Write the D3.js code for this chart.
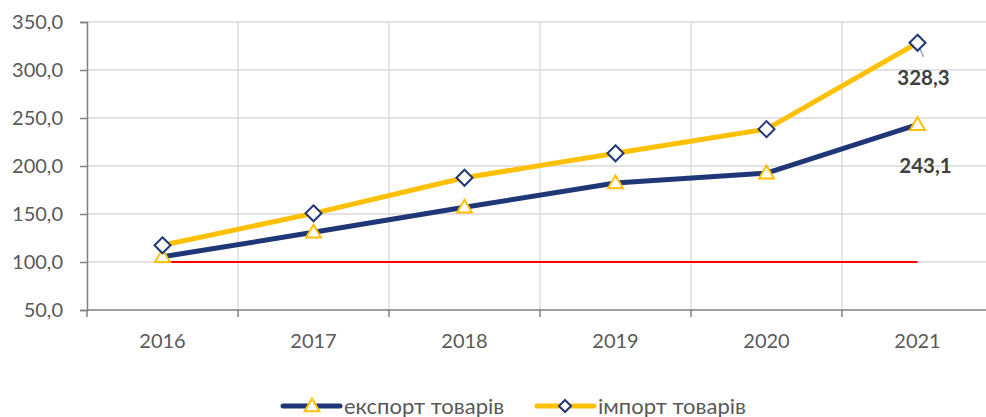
<!DOCTYPE html>
<html>
<head>
<meta charset="utf-8">
<script src="https://cdn.jsdelivr.net/npm/d3@7/dist/d3.min.js"></script>
<style>
  html, body { margin: 0; padding: 0; background: #fff; overflow: hidden; }
  svg { display: block; font-family: Lato, "Open Sans", sans-serif; }
</style>
</head>
<body>
<svg id="chart" width="986" height="417"></svg>
<script>
// Goods trade indices by year
const years = ["2016", "2017", "2018", "2019", "2020", "2021"];
const exportValues = [105.4, 130.9, 157.0, 182.3, 192.6, 243.1];
const importValues = [117.4, 150.7, 187.8, 213.2, 238.4, 328.3];
const baseLevel = [100, 100, 100, 100, 100, 100];
const yTicks = [50, 100, 150, 200, 250, 300, 350];
const seriesNames = ["експорт товарів", "імпорт товарів"];

const navy = "#1f3677";
const gold = "#ffc000";
const gridColor = "#d9d9d9";
const axisColor = "#808080";
const textColor = "#595959";

const svg = d3.select("#chart");
const plotLeft = 87, plotRight = 993, plotTop = 22, plotBottom = 310;

const x = d3.scaleBand().domain(years).range([plotLeft, plotRight]);
const cx = d => x(d) + x.bandwidth() / 2;
const y = d3.scaleLinear().domain([50, 350]).range([plotBottom, plotTop]);

const fmt = v => d3.format(".1f")(v).replace(".", ",");

// horizontal gridlines
svg.append("g").selectAll("line").data(yTicks.slice(1)).join("line")
  .attr("x1", plotLeft).attr("x2", plotRight)
  .attr("y1", d => y(d)).attr("y2", d => y(d))
  .attr("stroke", gridColor).attr("stroke-width", 1.3);

// vertical gridlines at category boundaries
svg.append("g").selectAll("line").data(years.slice(1)).join("line")
  .attr("x1", d => x(d)).attr("x2", d => x(d))
  .attr("y1", plotTop).attr("y2", plotBottom)
  .attr("stroke", gridColor).attr("stroke-width", 1.3);

// y axis
const yAxis = svg.append("g").attr("transform", `translate(${plotLeft},0)`)
  .call(d3.axisLeft(y).tickValues(yTicks).tickFormat(fmt).tickSizeOuter(0).tickSize(7).tickPadding(17));
yAxis.select(".domain").attr("stroke", axisColor).attr("stroke-width", 1.5);
yAxis.selectAll(".tick line").attr("stroke", axisColor).attr("stroke-width", 1.5);
yAxis.selectAll("text").attr("fill", textColor).attr("font-size", 20).attr("font-family", "Lato, sans-serif");

// x axis with ticks between categories
const xAxis = svg.append("g").attr("transform", `translate(0,${plotBottom})`);
xAxis.append("line").attr("x1", plotLeft).attr("x2", plotRight).attr("y1", 0).attr("y2", 0)
  .attr("stroke", axisColor).attr("stroke-width", 1.5);
xAxis.selectAll(".tk").data(years.concat(["end"])).join("line").attr("class", "tk")
  .attr("x1", (d, i) => plotLeft + i * x.bandwidth()).attr("x2", (d, i) => plotLeft + i * x.bandwidth())
  .attr("y1", 0).attr("y2", 7)
  .attr("stroke", axisColor).attr("stroke-width", 1.5);
xAxis.selectAll("text").data(years).join("text")
  .attr("x", d => cx(d)).attr("y", 38)
  .attr("text-anchor", "middle")
  .attr("fill", textColor).attr("font-size", 20)
  .text(d => d);

// base level line
const line = d3.line().x((d, i) => cx(years[i])).y(d => y(d));
svg.append("path").datum(baseLevel).attr("d", line)
  .attr("fill", "none").attr("stroke", "#ff0000").attr("stroke-width", 2);

// series lines
svg.append("path").datum(exportValues).attr("d", line)
  .attr("fill", "none").attr("stroke", navy).attr("stroke-width", 5).attr("stroke-linejoin", "round");
svg.append("path").datum(importValues).attr("d", line)
  .attr("fill", "none").attr("stroke", gold).attr("stroke-width", 5).attr("stroke-linejoin", "round");

const tri = d3.symbol().type(d3.symbolTriangle).size(95);
const dia = "M0,-8L8,0L0,8L-8,0Z";

// leader line for the last import label
svg.append("line")
  .attr("x1", cx("2021")).attr("y1", y(328.3))
  .attr("x2", cx("2021") + 6).attr("y2", y(328.3) + 14)
  .attr("stroke", "#a6a6a6").attr("stroke-width", 1.5);

// markers
svg.append("g").selectAll("path").data(exportValues).join("path")
  .attr("transform", (d, i) => `translate(${cx(years[i])},${y(d) + 1})`)
  .attr("d", tri).attr("fill", "#fff").attr("stroke", gold).attr("stroke-width", 2);
svg.append("g").selectAll("path").data(importValues).join("path")
  .attr("transform", (d, i) => `translate(${cx(years[i])},${y(d)})`)
  .attr("d", dia).attr("fill", "#fff").attr("stroke", navy).attr("stroke-width", 2);

// value labels for the last year
const last = years.length - 1;
svg.append("text").attr("x", cx(years[last]) + 6).attr("y", y(importValues[last]) + 42)
  .attr("text-anchor", "middle").attr("font-weight", "bold").attr("font-size", 20.5)
  .attr("fill", "#404040").text(fmt(importValues[last]));
svg.append("text").attr("x", cx(years[last]) + 8).attr("y", y(exportValues[last]) + 48)
  .attr("text-anchor", "middle").attr("font-weight", "bold").attr("font-size", 20.5)
  .attr("fill", "#404040").text(fmt(exportValues[last]));

// legend
const legend = svg.append("g").attr("transform", "translate(0,406)");
const items = [
  { name: seriesNames[0], color: navy, x0: 283, marker: "tri" },
  { name: seriesNames[1], color: gold, x0: 537, marker: "dia" }
];
items.forEach(it => {
  legend.append("line").attr("x1", it.x0).attr("x2", it.x0 + 57).attr("y1", 0).attr("y2", 0)
    .attr("stroke", it.color).attr("stroke-width", 5).attr("stroke-linecap", "round");
  if (it.marker === "tri") {
    legend.append("path").attr("transform", `translate(${it.x0 + 29},1)`).attr("d", tri)
      .attr("fill", "#fff").attr("stroke", gold).attr("stroke-width", 2);
  } else {
    legend.append("path").attr("transform", `translate(${it.x0 + 28},0)`).attr("d", "M0,-6L6,0L0,6L-6,0Z")
      .attr("fill", "#fff").attr("stroke", navy).attr("stroke-width", 2);
  }
  legend.append("text").attr("x", it.x0 + 61).attr("y", 7.5)
    .attr("font-size", 22).attr("fill", textColor).text(it.name);
});
</script>
</body>
</html>
